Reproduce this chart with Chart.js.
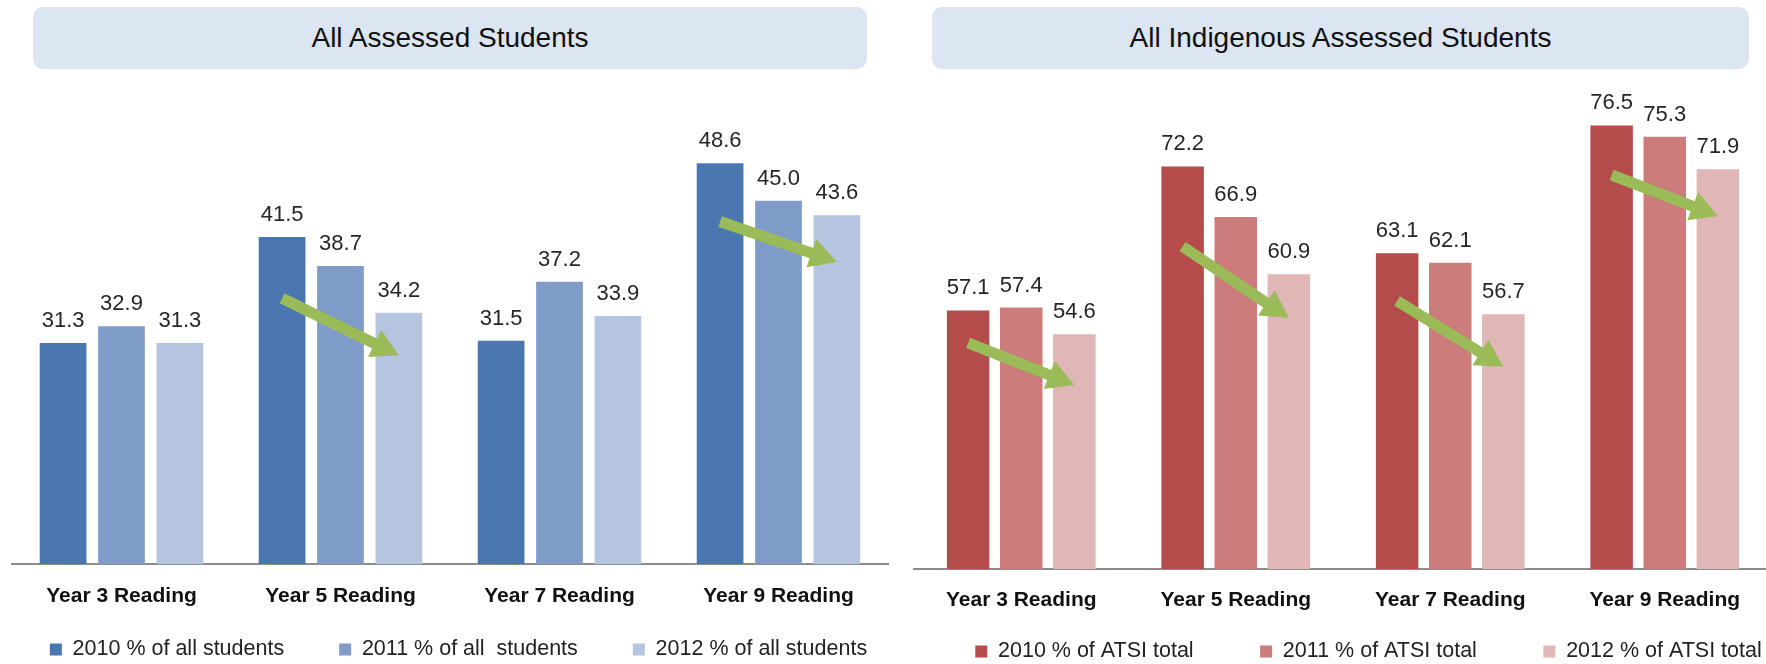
<!DOCTYPE html>
<html>
<head>
<meta charset="utf-8">
<script src="https://cdn.jsdelivr.net/npm/chart.js@4.4.1/dist/chart.umd.min.js"></script>
<style>
  html, body { margin: 0; padding: 0; width: 1766px; height: 664px; overflow: hidden; background: #fff; }
  .panel { position: absolute; top: 0; height: 664px; }
  .title {
    position: absolute; top: 7px; height: 62px;
    background: #dce6f2; border-radius: 10px;
    display: flex; align-items: center; justify-content: center;
    font-family: "Liberation Sans", Arial, sans-serif; font-size: 28px; color: #111;
  }
</style>
</head>
<body>
<div class="panel" style="left:-14px;width:945px"><canvas id="allChart"></canvas></div>
<div class="panel" style="left:900px;width:937px"><canvas id="atsiChart"></canvas></div>
<div class="title" style="left:33px;width:834px">All Assessed Students</div>
<div class="title" style="left:932px;width:817px">All Indigenous Assessed Students</div>

<script>
const categories = ['Year 3 Reading', 'Year 5 Reading', 'Year 7 Reading', 'Year 9 Reading'];

const allSeries = ['2010 % of all students', '2011 % of all  students', '2012 % of all students'];
const all2010 = [31.3, 41.5, 31.5, 48.6];
const all2011 = [32.9, 38.7, 37.2, 45.0];
const all2012 = [31.3, 34.2, 33.9, 43.6];
// trend arrows: value where the arrow starts (2010 bar) and where it points (2012 bar)
const allArrowFrom = [null, 35.6, null, 43.0];
const allArrowTo = [null, 30.1, null, 39.1];

const atsiSeries = ['2010 % of ATSI total', '2011 % of ATSI total', '2012 % of ATSI total'];
const atsi2010 = [57.1, 72.2, 63.1, 76.5];
const atsi2011 = [57.4, 66.9, 62.1, 75.3];
const atsi2012 = [54.6, 60.9, 56.7, 71.9];
const atsiArrowFrom = [53.7, 63.8, 58.1, 71.3];
const atsiArrowTo = [49.3, 56.3, 51.2, 67.0];

const FONT = '"Liberation Sans", Arial, sans-serif';

const trendArrows = {
  id: 'trendArrows',
  afterDatasetsDraw(chart, args, opts) {
    const first = chart.getDatasetMeta(0).data;
    const last = chart.getDatasetMeta(2).data;
    const yScale = chart.scales.y;
    const ctx = chart.ctx;
    ctx.save();
    ctx.fillStyle = '#9bbb59';
    ctx.strokeStyle = '#9bbb59';
    ctx.lineWidth = 11;
    opts.from.forEach((v, i) => {
      if (v == null) return;
      const x0 = first[i].x, y0 = yScale.getPixelForValue(v);
      const x1 = last[i].x, y1 = yScale.getPixelForValue(opts.to[i]);
      const ang = Math.atan2(y1 - y0, x1 - x0);
      const head = 27, half = 15;
      const bx = x1 - head * Math.cos(ang), by = y1 - head * Math.sin(ang);
      ctx.beginPath();
      ctx.moveTo(x0, y0);
      ctx.lineTo(bx + Math.cos(ang), by + Math.sin(ang));
      ctx.stroke();
      ctx.beginPath();
      ctx.moveTo(x1, y1);
      ctx.lineTo(bx + half * Math.sin(ang), by - half * Math.cos(ang));
      ctx.lineTo(bx - half * Math.sin(ang), by + half * Math.cos(ang));
      ctx.closePath();
      ctx.fill();
    });
    ctx.restore();
  }
};

const valueLabels = {
  id: 'valueLabels',
  afterDatasetsDraw(chart) {
    const ctx = chart.ctx;
    ctx.save();
    ctx.font = '22px ' + FONT;
    ctx.fillStyle = '#262626';
    ctx.textAlign = 'center';
    ctx.textBaseline = 'alphabetic';
    chart.data.datasets.forEach((ds, i) => {
      chart.getDatasetMeta(i).data.forEach((bar, j) => {
        ctx.fillText(ds.data[j].toFixed(1), bar.x, bar.y - 16);
      });
    });
    ctx.restore();
  }
};

// the legend keeps wide horizontal gaps (labels.padding) but sits closer to the axis
const legendLift = {
  id: 'legendLift',
  afterLayout(chart, args, opts) {
    const lg = chart.legend;
    if (!lg) return;
    lg.top -= opts.lift;
    lg.height = lg.bottom - lg.top;
  }
};

function makeChart(id, cfg) {
  return new Chart(document.getElementById(id), {
    type: 'bar',
    data: {
      labels: categories,
      datasets: cfg.series.map((data, i) => ({
        label: cfg.labels[i],
        data: data,
        backgroundColor: cfg.colors[i],
        categoryPercentage: cfg.catPct,
        barPercentage: 0.8
      }))
    },
    options: {
      responsive: true,
      maintainAspectRatio: false,
      animation: false,
      layout: { padding: { top: cfg.top, left: 0, right: 0, bottom: 0 } },
      scales: {
        x: {
          grid: { display: false, drawTicks: false },
          border: { color: '#8c8c8c', width: 2 },
          ticks: {
            color: '#111',
            padding: cfg.tickPad,
            font: { family: FONT, size: 21, weight: 'bold' }
          }
        },
        y: {
          min: cfg.min,
          max: cfg.max,
          position: 'left',
          ticks: { display: false },
          grid: { display: false },
          border: { display: false },
          afterFit: (s) => { s.width = cfg.leftW; }
        },
        y2: {
          type: 'linear',
          position: 'right',
          ticks: { display: false },
          grid: { display: false },
          border: { display: false },
          afterFit: (s) => { s.width = cfg.rightW; }
        }
      },
      plugins: {
        legend: {
          position: 'bottom',
          maxHeight: cfg.legendH,
          labels: {
            boxWidth: 12,
            boxHeight: 12,
            padding: cfg.legendPad,
            color: '#222',
            font: { family: FONT, size: 21.5 }
          }
        },
        tooltip: { enabled: false },
        trendArrows: { from: cfg.arrowFrom, to: cfg.arrowTo },
        legendLift: { lift: cfg.lift }
      }
    },
    plugins: [trendArrows, valueLabels, legendLift]
  });
}

makeChart('allChart', {
  labels: allSeries,
  series: [all2010, all2011, all2012],
  colors: ['#4a77b0', '#7f9cc8', '#b5c4df'],
  arrowFrom: allArrowFrom,
  arrowTo: allArrowTo,
  min: 10, max: 60,
  catPct: 0.8,
  top: 45, leftW: 26, rightW: 43,
  tickPad: 19.4,
  legendH: 36, legendPad: 55, lift: 44.25
});

makeChart('atsiChart', {
  labels: atsiSeries,
  series: [atsi2010, atsi2011, atsi2012],
  colors: ['#b34c4a', '#cb7c7b', '#e0b6b6'],
  arrowFrom: atsiArrowFrom,
  arrowTo: atsiArrowTo,
  min: 30, max: 80,
  catPct: 0.743,
  top: 92, leftW: 14, rightW: 65,
  tickPad: 18.4,
  legendH: 33, legendPad: 66.5, lift: 56.75
});
</script>
</body>
</html>
